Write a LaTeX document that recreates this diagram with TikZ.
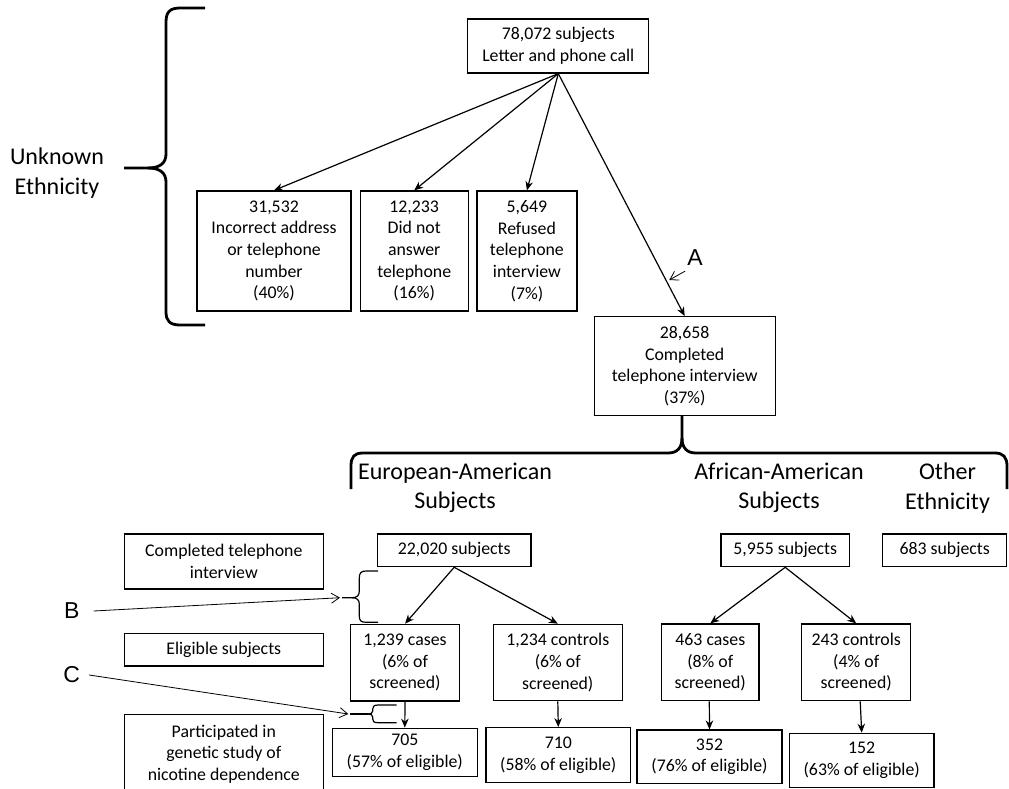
\documentclass[tikz,border=0pt]{standalone}
\usepackage{fontspec}
\setmainfont{Carlito}
\newfontfamily\arialfont{Liberation Sans}
\usetikzlibrary{arrows.meta,calc}
\begin{document}
\begin{tikzpicture}[x=1pt,y=-1pt,
  box/.style={draw, line width=1.25pt, align=center, inner sep=0pt, font=\fontsize{17.8}{21.7}\selectfont},
  big/.style={align=center, inner sep=0pt, font=\fontsize{24}{29.5}\selectfont},
  letter/.style={inner sep=0pt, font=\arialfont\fontsize{23}{23}\selectfont},
  flow/.style={line width=1.2pt, -{Stealth[length=9pt,width=7.5pt]}},
  pointer/.style={line width=0.8pt, -{Straight Barb[length=8pt,width=10pt]}},
  bigbrace/.style={line width=2.8pt, line join=round},
  smallbrace/.style={line width=1.2pt}]
\useasboundingbox (0,0) rectangle (1009,788);
\clip (0,0) rectangle (1009,788);

% top part
\node[box, minimum width=181pt, minimum height=54pt] (top) at (558.3,46) {78,072 subjects\\Letter and phone call};
\node[box, minimum width=154pt, minimum height=120pt] (inc) at (274,251) {31,532\\Incorrect address\\or telephone\\number\\(40\%)};
\node[box, minimum width=108pt, minimum height=120pt] (dna) at (414.2,251) {12,233\\Did not\\answer\\telephone\\(16\%)};
\node[box, minimum width=100pt, minimum height=120pt] (ref) at (526.9,251) {5,649\\Refused\\telephone\\interview\\(7\%)};
\node[box, minimum width=181pt, minimum height=99pt] (comp) at (684.7,366.2) {28,658\\Completed\\telephone interview\\(37\%)};

\draw[flow] (top.south) -- (inc.north);
\draw[flow] (top.south) -- (dna.north);
\draw[flow] (top.south) -- (ref.north);
\draw[flow] (top.south) -- (comp.north);

\node[big] (unk) at (57,173) {Unknown\\Ethnicity};
\draw[bigbrace] (205,8) -- (180,8) .. controls (170,8) and (166,12) .. (166,22) -- (166,154) .. controls (166,163) and (160,168) .. (148,168) -- (124,168);
\draw[bigbrace] (148,168) .. controls (160,168) and (166,173) .. (166,182) -- (166,312) .. controls (166,321) and (170,325) .. (180,325) -- (205,325);

\node[letter] (A) at (695,258) {A};
\coordinate (aTip) at (669.3,280);
\draw[pointer] ([xshift=-2pt,yshift=-5pt]A.south west) -- (aTip);

% ethnicity brace
\draw[bigbrace] (351,489) -- (351,466) .. controls (351,457) and (354,453) .. (363,453) -- (668,453) .. controls (677,453) and (682,448) .. (682,438) -- (682,416);
\draw[bigbrace] (682,438) .. controls (682,448) and (687,453) .. (696,453) -- (995,453) .. controls (1003,453) and (1007,457) .. (1007,466) -- (1007,489);

\node[big] (ea) at (455,488) {European-American\\Subjects};
\node[big] (aa) at (779,488) {African-American\\Subjects};
\node[big] (oe) at (947.5,488) {Other\\Ethnicity};

% row labels
\node[box, minimum width=199pt, minimum height=55pt] (lct) at (223.8,561.5) {Completed telephone\\interview};
\node[box, minimum width=199pt, minimum height=32.7pt] (lel) at (223.8,649.7) {Eligible subjects};
\node[box, minimum width=199pt, minimum height=79.4pt] (lpa) at (223.8,754) {Participated in\\genetic study of\\nicotine dependence};

% subjects
\node[box, minimum width=153.7pt, minimum height=32.7pt] (s22) at (454.2,550.3) {22,020 subjects};
\node[box, minimum width=128.3pt, minimum height=32.7pt] (s59) at (785.2,550.3) {5,955 subjects};
\node[box, minimum width=124pt, minimum height=32.7pt] (s68) at (944.7,550.3) {683 subjects};

\node[box, minimum width=108.6pt, minimum height=76.7pt] (c1) at (405,662.7) {1,239 cases\\(6\% of\\screened)};
\node[box, minimum width=129pt, minimum height=76.4pt] (k1) at (557.8,662.5) {1,234 controls\\(6\% of\\screened)};
\node[box, minimum width=97.3pt, minimum height=76.7pt] (c2) at (710.3,662.3) {463 cases\\(8\% of\\screened)};
\node[box, minimum width=109pt, minimum height=76.7pt] (k2) at (856.2,662.3) {243 controls\\(4\% of\\screened)};

\node[box, minimum width=145pt, minimum height=48.5pt] (p1) at (404.8,752.5) {705\\(57\% of eligible)};
\node[box, minimum width=144.7pt, minimum height=55pt] (p2) at (558.3,755.2) {710\\(58\% of eligible)};
\node[box, minimum width=145pt, minimum height=53.3pt] (p3) at (709.5,756.7) {352\\(76\% of eligible)};
\node[box, minimum width=144.7pt, minimum height=54pt] (p4) at (861.7,760.3) {152\\(63\% of eligible)};

\draw[flow] (s22.south) -- (c1.north);
\draw[flow] (s22.south) -- (k1.north);
\draw[flow] (s59.south) -- (c2.north);
\draw[flow] (s59.south) -- (k2.north);

\draw[flow] (c1.south) -- (p1.north);
\draw[flow] (k1.south) -- (p2.north);
\draw[flow] ($(c2.south)+(-1,0)$) -- (p3.north);
\draw[flow] ($(k2.south)+(4,0)$) -- (p4.north);

% B brace and pointer
\draw[smallbrace] (378,571) -- (366,571) .. controls (361,571) and (359.3,573) .. (359.3,578) -- (359.3,591) .. controls (359.3,595.5) and (357,597.7) .. (352,597.7) -- (342,597.7);
\draw[smallbrace] (352,597.7) .. controls (357,597.7) and (359.3,600) .. (359.3,604) -- (359.3,616) .. controls (359.3,620.5) and (361,622.3) .. (366,622.3) -- (378,622.3);
\node[letter] (B) at (71.7,611) {B};
\coordinate (bTip) at (340,597.7);
\draw[pointer] ([xshift=14pt]B.east) -- (bTip);

% C brace and pointer
\draw[smallbrace] (396.7,705) -- (378,705) .. controls (374,705) and (372.7,706.5) .. (372.7,709) -- (372.7,711) .. controls (372.7,713) and (371,714) .. (368,714);
\draw[smallbrace] (368,714) .. controls (371,714) and (372.7,715) .. (372.7,717) -- (372.7,719) .. controls (372.7,721.5) and (374,722.7) .. (378,722.7) -- (396.7,722.7);
\draw[line width=2pt] (350,714) -- (368,714);
\node[letter] (C) at (71.7,675) {C};
\coordinate (cTip) at (348.3,714);
\draw[pointer] ([xshift=9pt]C.east) -- (cTip);
\end{tikzpicture}
\end{document}
